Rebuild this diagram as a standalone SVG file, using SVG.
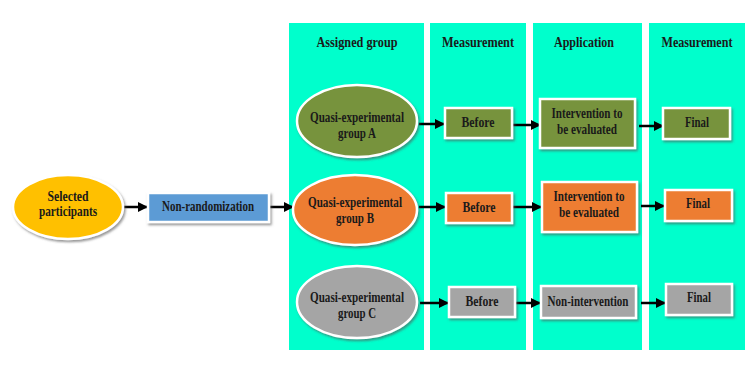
<svg xmlns="http://www.w3.org/2000/svg" width="756" height="369" viewBox="0 0 756 369">
<defs>
<filter id="sh" x="-20%" y="-20%" width="140%" height="150%">
<feDropShadow dx="1.5" dy="2" stdDeviation="1.2" flood-color="#555" flood-opacity="0.6"/>
</filter>
<marker id="ah" viewBox="0 0 10 10" refX="9" refY="5" markerWidth="4" markerHeight="4" markerUnits="strokeWidth" orient="auto">
<path d="M0,0 L10,5 L0,10 z" fill="#000"/>
</marker>
<style>
text{font-family:"Liberation Serif","Times New Roman",serif;font-weight:bold;fill:#1a1a1a;text-anchor:middle;font-size:14px}
.hd{font-size:15px}
.col{fill:#00ffcc}
.nd{stroke:#fff;stroke-width:2.5;filter:url(#sh)}
.gr{fill:#77933c}
.or{fill:#ed7d31}
.gy{fill:#a5a5a5}
.conn line{stroke:#000;stroke-width:2.5;marker-end:url(#ah)}
</style>
</defs>
<rect width="756" height="369" fill="#fff"/>
<g id="columns">
<rect class="col" x="289" y="23" width="135" height="327"/>
<rect class="col" x="430" y="23" width="96" height="327"/>
<rect class="col" x="533" y="23" width="109" height="327"/>
<rect class="col" x="649" y="23" width="96" height="327"/>
<text class="hd" x="357" y="47" textLength="81" lengthAdjust="spacingAndGlyphs">Assigned group</text>
<text class="hd" x="478" y="47" textLength="72" lengthAdjust="spacingAndGlyphs">Measurement</text>
<text class="hd" x="584" y="47" textLength="60" lengthAdjust="spacingAndGlyphs">Application</text>
<text class="hd" x="697" y="47" textLength="71" lengthAdjust="spacingAndGlyphs">Measurement</text>
</g>
<g class="conn" id="connectors">
<line x1="124" y1="207" x2="147" y2="207"/>
<line x1="270" y1="207" x2="293" y2="207"/>
<line x1="419" y1="124" x2="444" y2="124"/>
<line x1="513" y1="125" x2="540" y2="125"/>
<line x1="639" y1="126" x2="663" y2="126"/>
<line x1="419" y1="207" x2="445" y2="207"/>
<line x1="513" y1="207" x2="541" y2="207"/>
<line x1="641" y1="206" x2="664" y2="206"/>
<line x1="420" y1="303" x2="448" y2="303"/>
<line x1="516" y1="303" x2="540" y2="303"/>
<line x1="641" y1="303" x2="665" y2="303"/>
</g>
<g id="selected">
<ellipse class="nd" cx="68" cy="207" rx="55" ry="32" fill="#ffc000"/>
<text x="68" y="201" textLength="41" lengthAdjust="spacingAndGlyphs">Selected</text>
<text x="68" y="216" textLength="58" lengthAdjust="spacingAndGlyphs">participants</text>
</g>
<g id="nonrand">
<rect class="nd" x="148" y="193" width="121" height="29" fill="#5b9bd5"/>
<text x="208" y="211" textLength="92" lengthAdjust="spacingAndGlyphs">Non-randomization</text>
</g>
<g id="groupA">
<ellipse class="nd gr" cx="357" cy="121" rx="60" ry="36"/>
<text x="357" y="122" textLength="94" lengthAdjust="spacingAndGlyphs">Quasi-experimental</text>
<text x="357" y="138" textLength="38" lengthAdjust="spacingAndGlyphs">group A</text>
</g>
<g id="groupB">
<ellipse class="nd or" cx="355" cy="210" rx="62" ry="35"/>
<text x="355" y="207" textLength="94" lengthAdjust="spacingAndGlyphs">Quasi-experimental</text>
<text x="355" y="223" textLength="38" lengthAdjust="spacingAndGlyphs">group B</text>
</g>
<g id="groupC">
<ellipse class="nd gy" cx="357" cy="302" rx="60" ry="36"/>
<text x="357" y="302" textLength="94" lengthAdjust="spacingAndGlyphs">Quasi-experimental</text>
<text x="357" y="318" textLength="38" lengthAdjust="spacingAndGlyphs">group C</text>
</g>
<g id="beforeA">
<rect class="nd gr" x="445" y="108" width="67" height="30"/>
<text x="478" y="127" textLength="33" lengthAdjust="spacingAndGlyphs">Before</text>
</g>
<g id="beforeB">
<rect class="nd or" x="446" y="193" width="66" height="30"/>
<text x="479" y="212" textLength="33" lengthAdjust="spacingAndGlyphs">Before</text>
</g>
<g id="beforeC">
<rect class="nd gy" x="449" y="287" width="66" height="30"/>
<text x="482" y="306" textLength="33" lengthAdjust="spacingAndGlyphs">Before</text>
</g>
<g id="interventionA">
<rect class="nd gr" x="540" y="99" width="95" height="49"/>
<text x="587" y="118" textLength="71" lengthAdjust="spacingAndGlyphs">Intervention to</text>
<text x="587" y="134" textLength="60" lengthAdjust="spacingAndGlyphs">be evaluated</text>
</g>
<g id="interventionB">
<rect class="nd or" x="542" y="182" width="95" height="50"/>
<text x="589" y="201" textLength="71" lengthAdjust="spacingAndGlyphs">Intervention to</text>
<text x="589" y="217" textLength="60" lengthAdjust="spacingAndGlyphs">be evaluated</text>
</g>
<g id="nonintervention">
<rect class="nd gy" x="541" y="286" width="95" height="32"/>
<text x="588" y="306" textLength="81" lengthAdjust="spacingAndGlyphs">Non-intervention</text>
</g>
<g id="finalA">
<rect class="nd gr" x="663" y="108" width="67" height="31"/>
<text x="697" y="127" textLength="24" lengthAdjust="spacingAndGlyphs">Final</text>
</g>
<g id="finalB">
<rect class="nd or" x="665" y="190" width="67" height="31"/>
<text x="698" y="208" textLength="24" lengthAdjust="spacingAndGlyphs">Final</text>
</g>
<g id="finalC">
<rect class="nd gy" x="666" y="284" width="66" height="31"/>
<text x="699" y="302" textLength="24" lengthAdjust="spacingAndGlyphs">Final</text>
</g>
</svg>
